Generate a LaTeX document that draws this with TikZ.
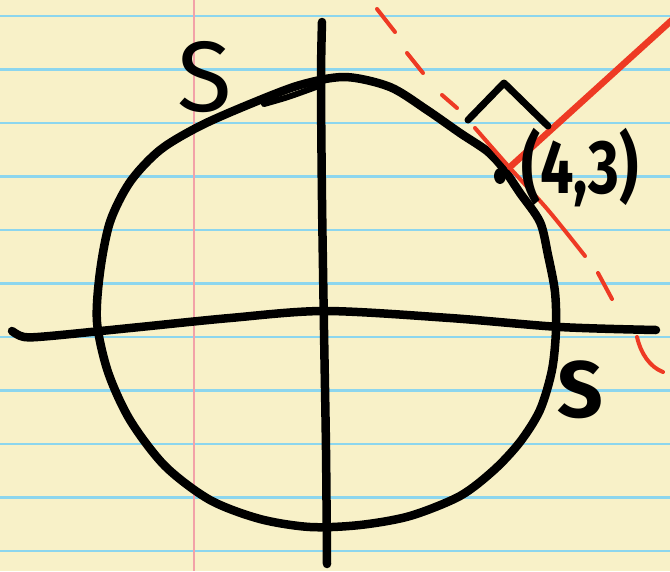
\documentclass[tikz,border=0pt]{standalone}
\usepackage{fontspec}
\newfontfamily\handfont{Fira Sans}
\usetikzlibrary{positioning}

\definecolor{paper}{HTML}{F8F1C8}
\definecolor{ruleblue}{HTML}{8CD6EE}
\definecolor{marginpink}{HTML}{F2A2A8}
\definecolor{inkred}{HTML}{EE3A24}

\begin{document}
\begin{tikzpicture}[
    x=1pt, y=-1pt,
    line cap=round, line join=round,
    ruled/.style={ruleblue, line width=2.4pt, line cap=butt},
    marginrule/.style={marginpink, line width=1.6pt, line cap=butt},
    pen/.style={black, line width=8.5pt},
    redpen/.style={inkred, line width=6.5pt},
    tangent/.style={inkred, line width=4pt},
    handtext/.style={text=black, inner sep=0pt}
]

% -------------------------------------------------
% PAPER
% -------------------------------------------------
\fill[paper] (0,0) rectangle (670,571);
\useasboundingbox (0,0) rectangle (670,571);
\foreach \k in {0,...,10}
    \draw[ruled] (0,{16+53.5*\k}) -- (670,{16+53.5*\k});
\draw[marginrule] (194,0) -- (194,571);

% -------------------------------------------------
% AXES
% -------------------------------------------------
\draw[pen] plot[smooth] coordinates {
    (12,331) (24,337) (50,336) (140,327) (230,318)
    (325,311) (450,318) (560,327) (656,330)
};
\draw[pen] plot[smooth] coordinates {
    (322,22) (321,80) (322,200) (324,330) (326,450) (327,564)
};

% -------------------------------------------------
% CIRCLE S
% -------------------------------------------------
\draw[pen] plot[smooth cycle, tension=0.5] coordinates {
    (345,77) (390,87) (427,110) (460,133) (487,151)
    (503,168) (520,193) (540,222) (548,255) (555,292) (556,330)
    (552,370) (540,410) (520,442) (494,470) (460,496) (410,516)
    (360,525) (310,527) (260,519) (210,500) (165,466) (130,420)
    (108,372) (97,322) (100,272) (110,222) (130,182) (160,150)
    (200,126) (250,104) (300,85)
};
% doubled stroke at the top
\draw[pen, line width=6pt] plot[smooth] coordinates {(264,104) (288,97) (316,87)};

% point of tangency
\fill[black] (500,176) ellipse (6 and 8);

% -------------------------------------------------
% TANGENT LINE AND NORMAL
% -------------------------------------------------
\draw[tangent] plot[smooth] coordinates {(475,128) (510,168) (548,210) (585,256)};
\draw[tangent] (377,9) -- (395,32);
\draw[tangent] (407,53) -- (423,73);
\draw[tangent] (442,95) -- (457,108);
\draw[tangent] (598,273) -- (612,299);
\draw[tangent] (637,337) .. controls (641,354) and (650,367) .. (663,372);

\draw[redpen] (510,167) -- (672,20);

% right angle mark
\draw[pen, line width=7pt] (468,120) -- (504,83) -- (548,126);

% -------------------------------------------------
% LABELS
% -------------------------------------------------
\node[handtext, font=\handfont\fontsize{100}{100}\selectfont] (sTop) at (205,77) {S};
\node[handtext, font=\handfont\bfseries\fontsize{80}{80}\selectfont] (sRight) at (580,390) {S};
\node[handtext, font=\handfont\bfseries\fontsize{76}{76}\selectfont, xscale=0.78] (point) at (580,168) {(4,3)};

\end{tikzpicture}
\end{document}
